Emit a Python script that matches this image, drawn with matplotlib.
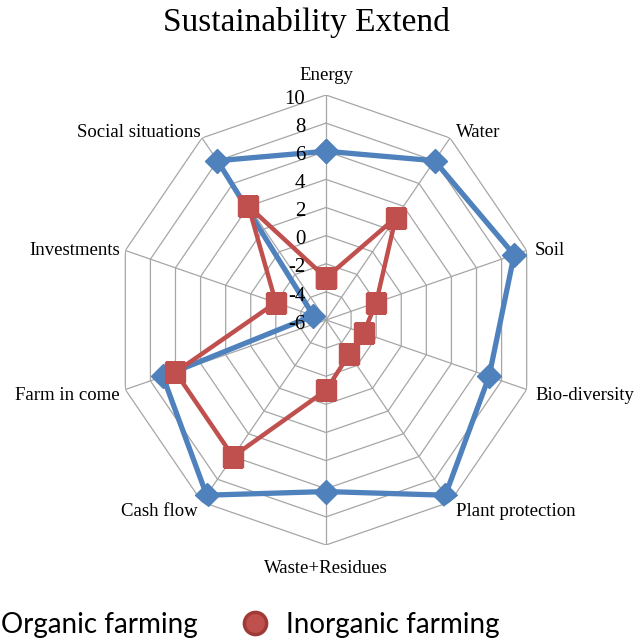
import matplotlib.pyplot as plt
from matplotlib.lines import Line2D
import numpy as np

categories = ["Energy", "Water", "Soil", "Bio-diversity", "Plant protection",
              "Waste+Residues", "Cash flow", "Farm in come", "Investments",
              "Social situations"]
organic = [6, 8, 9, 7, 9.4, 6.2, 9.4, 7, -5, 8]
inorganic = [-3, 3, -2, -3, -3, -1, 6, 6, -2, 4]
rings = [-4, -2, 0, 2, 4, 6, 8, 10]
tick_labels = ["10", "8", "6", "4", "2", "0", "-2", "-4", "-6"]
tick_values = [10, 8, 6, 4, 2, 0, -2, -4, -6]

blue = "#4F81BD"
red = "#C0504D"
grid_col = "#A6A6A6"

fig = plt.figure(figsize=(6.41, 6.40), dpi=100)
ax = fig.add_axes([115 / 641, 95 / 640, 422 / 641, 450 / 640], projection="polar")
ax.set_aspect("auto")
ax.set_theta_zero_location("N")
ax.set_theta_direction(-1)
ax.set_ylim(-6, 10)
ax.grid(False)
ax.spines["polar"].set_visible(False)
ax.set_xticks([])
ax.set_yticks([])
ax.patch.set_alpha(0)

n = len(categories)
theta = np.arange(n) * 2 * np.pi / n
theta_c = np.append(theta, theta[0])

# polygon grid
for r in rings:
    ax.plot(theta_c, [r] * (n + 1), color=grid_col, lw=0.9, zorder=1)
for t in theta:
    ax.plot([t, t], [-6, 10], color=grid_col, lw=0.9, zorder=1)

org_c = organic + organic[:1]
ino_c = inorganic + inorganic[:1]
ax.plot(theta_c, org_c, color=blue, lw=3.8, marker="D", ms=12, zorder=3,
        solid_joinstyle="miter")
ax.plot(theta_c, ino_c, color=red, lw=3.2, marker="s", ms=14, zorder=4,
        solid_joinstyle="miter")

# category labels
offsets = [(0, 14, "center"), (4, 4, "left"), (6, 0, "left"), (6, -4, "left"),
           (4, -7, "left"), (0, -17, "center"), (-3, -7, "right"),
           (-4, -4, "right"), (-4, 0, "right"), (-1, 4, "right")]
for t, lab, (dx, dy, ha) in zip(theta, categories, offsets):
    ax.annotate(lab, xy=(t, 10), xytext=(dx, dy), textcoords="offset points",
                ha=ha, va="center", fontsize=13.5, family="Liberation Serif",
                annotation_clip=False)

# radial tick labels
for v, lab in zip(tick_values, tick_labels):
    ax.annotate(lab, xy=(0, v), xytext=(-15, -3), textcoords="offset points",
                ha="right", va="center", fontsize=15, family="Liberation Serif",
                annotation_clip=False, zorder=6)

fig.text(306 / 641, 1 - 22 / 640, "Sustainability Extend", ha="center",
         va="center", fontsize=24, family="Liberation Serif")

# legend (the Organic marker falls outside the image, as in the original)
handles = [Line2D([], [], color=blue, lw=3.8, marker="D", ms=11),
           Line2D([], [], color=red, lw=0, marker="o", ms=16,
                  markeredgecolor="#9E3B38", markeredgewidth=2.5)]
fig.legend(handles, ["Organic farming", "Inorganic farming"], ncol=2,
           loc="center left", bbox_to_anchor=(-0.112, 15 / 640), frameon=False,
           prop={"family": "Lato", "size": 20}, handlelength=1.2,
           handletextpad=0.52, columnspacing=1.45)

fig.savefig("out.png", dpi=100)
